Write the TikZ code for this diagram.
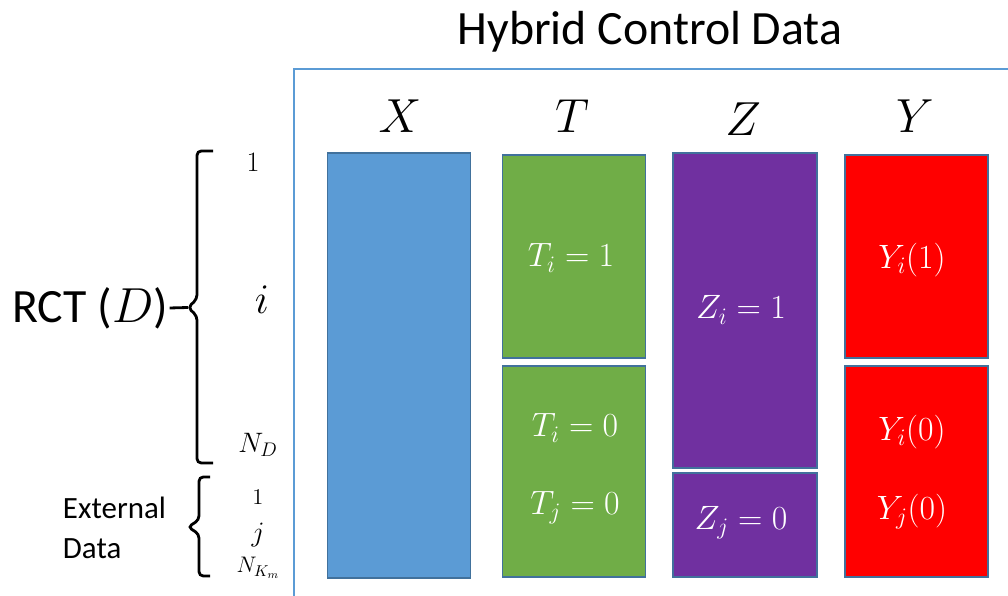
\RequirePackage{fix-cm}
\documentclass[tikz,border=0pt]{standalone}
\usepackage{fontspec}
\setmainfont{Carlito}
\usepackage{amsmath}
\usetikzlibrary{positioning, calc}
\definecolor{xblue}{HTML}{5B9BD5}
\definecolor{tgreen}{HTML}{70AD47}
\definecolor{zpurple}{HTML}{7030A0}
\definecolor{yred}{HTML}{FF0000}
\definecolor{boxline}{HTML}{41719C}
\tikzstyle{column}  = [rectangle, draw=boxline, line width=1.3pt,
                       minimum width=3.575cm, inner sep=0pt]
\tikzstyle{cell}    = [text=white, font=\fontsize{24}{28}\selectfont]
\tikzstyle{header}  = [anchor=base, font=\fontsize{34}{38}\selectfont]
\tikzstyle{rowlbl}  = [font=\fontsize{20}{24}\selectfont]
\tikzstyle{smalllbl}= [font=\fontsize{16}{19}\selectfont]
\tikzstyle{bracket} = [line width=2pt, rounded corners=3pt]

\begin{document}
\begin{tikzpicture}[x=0.025cm, y=-0.025cm]
  \useasboundingbox (0,0) rectangle (1008,596);

  % --- Frame and title ---
  \node (title) [font=\fontsize{34}{40}\selectfont] at (650,32) {Hybrid Control Data};
  \draw[xblue, line width=1.5pt] (294,596) -- (294,69) -- (1008,69);

  % --- Column headers ---
  \node (hx) [header] at (400,133) {$X$};
  \node (ht) [header] at (572,133) {$T$};
  \node (hz) [header] at (743,136) {$Z$};
  \node (hy) [header] at (915,133) {$Y$};

  % --- Columns ---
  \node (xcol) [column, fill=xblue, minimum height=10.625cm] at (399,365.5) {};
  \node (tup)  [column, fill=tgreen, minimum height=5.075cm] at (574,256.5) {};
  \node (tlow) [column, fill=tgreen, minimum height=5.275cm, below=0.15cm of tup] {};
  \node (zup)  [column, fill=zpurple, minimum width=3.6cm, minimum height=7.875cm] at (745,310.5) {};
  \node (zlow) [column, fill=zpurple, minimum width=3.6cm, minimum height=2.6cm, below=0.075cm of zup] {};
  \node (yup)  [column, fill=yred, minimum height=5.075cm] at (916.5,256.5) {};
  \node (ylow) [column, fill=yred, minimum height=5.275cm, below=0.15cm of yup] {};

  % cell texts
  \node (ti1) [cell] at (571,258) {$T_i = 1$};
  \node (ti0) [cell] at (575,428) {$T_i = 0$};
  \node (tj0) [cell] at (575,508) {$T_j = 0$};
  \node (zi1) [cell] at (741,310) {$Z_i = 1$};
  \node (zj0) [cell] at (741,523) {$Z_j = 0$};
  \node (yi1) [cell] at (912,260) {$Y_i(1)$};
  \node (yi0) [cell] at (912,432) {$Y_i(0)$};
  \node (yj0) [cell] at (912,512) {$Y_j(0)$};

  % --- Row labels ---
  \node (r1)  [rowlbl] at (253,162) {$1$};
  \node (ri)  [font=\fontsize{30}{34}\selectfont] at (262,300) {$i$};
  \node (rnd) [rowlbl] at (258,445) {$N_D$};
  \node (e1)  [smalllbl] at (258,497) {$1$};
  \node (ej)  [rowlbl] at (258,535) {$j$};
  \node (enk) [smalllbl] at (258,568) {$N_{K_m}$};

  % --- Brackets ---
  \coordinate (rcttip) at (188,307.5);
  \coordinate (exttip) at (188,527);
  \draw[bracket] (213,151) -- (197,151) -- (197,299) -- (rcttip) -- (197,316) -- (197,463) -- (213,463);
  \draw[bracket] (210,477) -- (199,477) -- (199,520) -- (exttip) -- (199,534) -- (199,576) -- (210,576);

  \node (rct) [font=\fontsize{34}{40}\selectfont, inner sep=1pt] at (90,308)
              {RCT ({\fontsize{35}{40}\selectfont$D$})};
  \draw[line width=2pt] (rct.east) -- (rcttip);
  \node (ext) [anchor=west, align=left, font=\fontsize{22}{28}\selectfont] at (58,528)
              {External\\Data};

\end{tikzpicture}
\end{document}
